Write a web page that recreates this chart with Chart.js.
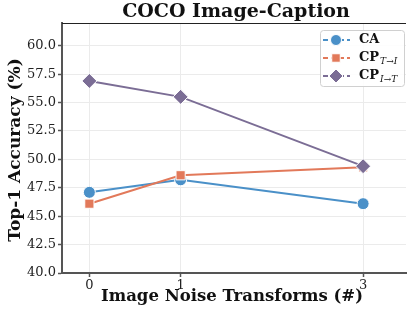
<!DOCTYPE html>
<html>
<head>
<meta charset="utf-8">
<script src="https://cdn.jsdelivr.net/npm/chart.js@4.4.0/dist/chart.umd.min.js"></script>
<style>
  html, body { margin: 0; padding: 0; background: #fff; overflow: hidden; }
  #wrap { width: 407px; height: 310px; position: relative; }
</style>
</head>
<body>
<div id="wrap"><canvas id="chart"></canvas></div>
<script>
// data
const noiseSteps = [0, 1, 3];
const caValues = [47.1, 48.2, 46.1];
const cpTIValues = [46.1, 48.6, 49.3];
const cpITValues = [56.9, 55.5, 49.4];
const yTickValues = [40, 42.5, 45, 47.5, 50, 52.5, 55, 57.5, 60];

const colors = {
    ca: '#4a90c8',
    cpTI: '#e2795a',
    cpIT: '#7b6d95',
    grid: '#ebebeb',
    axis: '#555555'
};

const serif = '"DejaVu Serif", serif';

const series = [
    { name: 'CA', sub: '', values: caValues, color: colors.ca, style: 'circle', radius: 6 },
    { name: 'CP', sub: 'T\u2192I', values: cpTIValues, color: colors.cpTI, style: 'rect', radius: 6.5 },
    { name: 'CP', sub: 'I\u2192T', values: cpITValues, color: colors.cpIT, style: 'rectRot', radius: 7.5 }
];

// titles, top spine and legend are drawn by hand (legend needs subscripts)
const decorations = {
    id: 'decorations',
    afterDraw(chart) {
        const ctx = chart.ctx;
        const area = chart.chartArea;
        ctx.save();

        // top spine
        ctx.strokeStyle = '#222';
        ctx.lineWidth = 1;
        ctx.beginPath();
        ctx.moveTo(area.left, area.top + 0.5);
        ctx.lineTo(area.right, area.top + 0.5);
        ctx.stroke();

        ctx.fillStyle = '#111';
        ctx.textAlign = 'center';
        ctx.textBaseline = 'middle';
        ctx.font = 'bold 19px ' + serif;
        ctx.fillText('COCO Image-Caption', 236, 12);

        ctx.font = 'bold 16.5px ' + serif;
        ctx.fillText('Image Noise Transforms (#)', 232, 297);

        ctx.save();
        ctx.font = 'bold 17px ' + serif;
        ctx.translate(16, 150);
        ctx.rotate(-Math.PI / 2);
        ctx.fillText('Top-1 Accuracy (%)', 0, 0);
        ctx.restore();

        // legend box
        const bx = 320, by = 30, bw = 84, bh = 56;
        ctx.fillStyle = 'rgba(255,255,255,0.9)';
        ctx.strokeStyle = '#d0d0d0';
        ctx.lineWidth = 1;
        ctx.beginPath();
        ctx.roundRect(bx + 0.5, by + 0.5, bw, bh, 3);
        ctx.fill();
        ctx.stroke();

        const rows = [40, 58, 76];
        series.forEach((s, i) => {
            const y = rows[i];
            ctx.strokeStyle = s.color;
            ctx.lineWidth = 2;
            ctx.setLineDash([5, 3]);
            ctx.beginPath();
            ctx.moveTo(323, y);
            ctx.lineTo(350, y);
            ctx.stroke();
            ctx.setLineDash([]);
            ctx.fillStyle = s.color;
            ctx.strokeStyle = '#fff';
            ctx.lineWidth = 1;
            Chart.helpers.drawPoint(ctx, { pointStyle: s.style, radius: s.radius - 0.5, borderWidth: 1 }, 336, y);

            ctx.fillStyle = '#111';
            ctx.textAlign = 'left';
            ctx.textBaseline = 'middle';
            ctx.font = 'bold 13px ' + serif;
            ctx.fillText(s.name, 359, y);
            if (s.sub) {
                const w = ctx.measureText(s.name).width;
                ctx.font = 'italic 9px ' + serif;
                ctx.fillText(s.sub, 359 + w + 1, y + 4);
            }
        });
        ctx.restore();
    }
};

const ctx = document.getElementById('chart').getContext('2d');
new Chart(ctx, {
    type: 'line',
    data: {
        // later series sit on top, like the reference
        datasets: series.map((s, i) => ({
            label: s.name + s.sub,
            data: noiseSteps.map((x, j) => ({ x: x, y: s.values[j] })),
            order: series.length - i,
            borderColor: s.color,
            backgroundColor: s.color,
            borderWidth: 2,
            pointStyle: s.style,
            pointRadius: s.radius,
            pointBorderColor: '#fff',
            pointBorderWidth: 1,
            tension: 0
        }))
    },
    options: {
        responsive: true,
        maintainAspectRatio: false,
        animation: false,
        layout: { autoPadding: false, padding: { top: 23, right: 1, left: 0, bottom: 0 } },
        plugins: {
            legend: { display: false },
            title: { display: false },
            tooltip: { enabled: false }
        },
        scales: {
            x: {
                type: 'linear',
                min: -0.3,
                max: 3.47,
                afterBuildTicks: (scale) => {
                    scale.ticks = noiseSteps.map(v => ({ value: v }));
                },
                afterFit: (scale) => {
                    scale.height = 37;
                    scale.paddingLeft = 0;
                    scale.paddingRight = 0;
                },
                grid: { color: colors.grid, tickColor: colors.axis, tickLength: 4, tickWidth: 1.5 },
                border: { color: colors.axis, width: 2 },
                ticks: {
                    color: '#222',
                    font: { family: serif, size: 13 },
                    padding: 1,
                    maxRotation: 0
                }
            },
            y: {
                min: 40,
                max: 62,
                afterBuildTicks: (scale) => {
                    scale.ticks = yTickValues.map(v => ({ value: v }));
                },
                afterFit: (scale) => {
                    scale.width = 62;
                    scale.paddingTop = 0;
                    scale.paddingBottom = 0;
                },
                grid: { color: colors.grid, tickColor: colors.axis, tickLength: 4, tickWidth: 1.5 },
                border: { color: colors.axis, width: 2 },
                ticks: {
                    color: '#222',
                    font: { family: serif, size: 13 },
                    padding: 2,
                    callback: (v) => v.toFixed(1)
                }
            }
        }
    },
    plugins: [decorations]
});
</script>
</body>
</html>
